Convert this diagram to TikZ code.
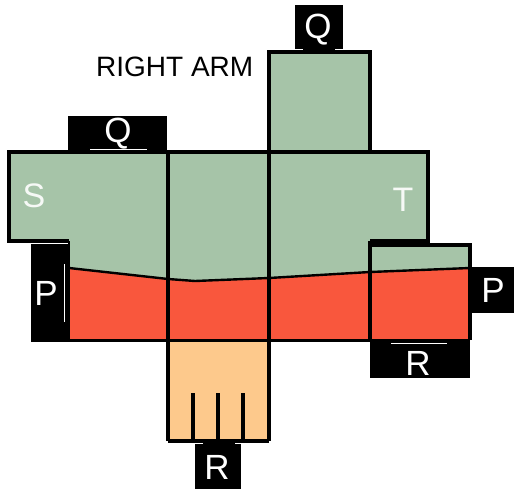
\documentclass[tikz,border=0pt]{standalone}
\usepackage{fontspec}
\setmainfont{Liberation Sans}
\definecolor{grn}{HTML}{A6C4A8}
\definecolor{rd}{HTML}{F9573D}
\definecolor{org}{HTML}{FDC98C}
\tikzset{
  outline/.style={draw=black,line width=4.4pt,line join=miter},
  seam/.style={draw=black,line width=2.4pt},
  tab/.style={fill=black,draw=none},
  tick/.style={draw=white,line width=1.2pt},
  wlabel/.style={text=white,inner sep=0pt,font=\fontsize{35}{35}\selectfont},
  slabel/.style={text=white!90!grn,inner sep=0pt,font=\fontsize{34}{34}\selectfont}
}
\begin{document}
\begin{tikzpicture}[x=1pt,y=-1pt]
\useasboundingbox (0,0) rectangle (514,490);
% black tabs
\fill[tab] (68,116) rectangle (167,153);
\fill[tab] (295,5) rectangle (343,49);
\fill[tab] (303,48) rectangle (335,53);
\fill[tab] (31,244) rectangle (69,342);
\fill[tab] (470,267) rectangle (514,313);
\fill[tab] (370,340) rectangle (470,378);
\fill[tab] (195,444) rectangle (241,489);
\fill[tab] (203,440) rectangle (235,445);
% colour regions
\fill[grn] (9,152) -- (168,152) -- (269,152) -- (269,52) -- (370,52) -- (370,152) -- (428,152) -- (428,241) -- (370,241) -- (370,245) -- (470,245) -- (470,268) -- (370,272) -- (269,278) -- (195,281) -- (168,279) -- (69,268) -- (69,241) -- (9,241) -- cycle;
\fill[rd] (69,268) -- (168,279) -- (195,281) -- (269,278) -- (370,272) -- (470,268) -- (470,340) -- (69,340) -- cycle;
\fill[org] (168,340) rectangle (269,441);
% seam between green and red
\draw[seam] (69,268) -- (168,279) -- (195,281) -- (269,278) -- (370,272) -- (470,268);
% outlines
\draw[outline] (69,241) -- (9,241) -- (9,152) -- (428,152) -- (428,241) -- (370,241);
\draw[outline] (269,152) -- (269,52) -- (370,52) -- (370,152);
\draw[outline] (370,340) -- (370,241);
\draw[outline] (370,245) -- (470,245) -- (470,340);
\draw[outline] (168,152) -- (168,441);
\draw[outline] (269,152) -- (269,441);
\draw[draw=black,line width=3pt] (69,340) -- (470,340);
\draw[outline] (168,441) -- (269,441);
\draw[draw=black,line width=2pt] (69,241) -- (69,342);
% fingers
\draw[draw=black,line width=4pt] (193,393) -- (193,441);
\draw[draw=black,line width=4pt] (218,393) -- (218,441);
\draw[draw=black,line width=4pt] (243,393) -- (243,441);
% white ticks
\draw[tick] (90,149.5) -- (147,149.5);
\draw[tick] (64.5,264) -- (64.5,322);
\draw[tick] (391,343.5) -- (447,343.5);
% labels
\node[wlabel] (q1) at (118,134) {Q};
\node[wlabel] (q2) at (318,30) {Q};
\node[wlabel] (p1) at (46,293) {P};
\node[wlabel] (p2) at (493,290) {P};
\node[wlabel] (r1) at (418,363) {R};
\node[wlabel] (r2) at (217,467) {R};
\node[slabel] (s) at (34,196) {S};
\node[slabel] (t) at (403,200) {T};
\node[text=black,inner sep=0pt,anchor=west,font=\fontsize{28}{28}\selectfont] (arm) at (96,67) {RIGHT ARM};
\end{tikzpicture}
\end{document}
